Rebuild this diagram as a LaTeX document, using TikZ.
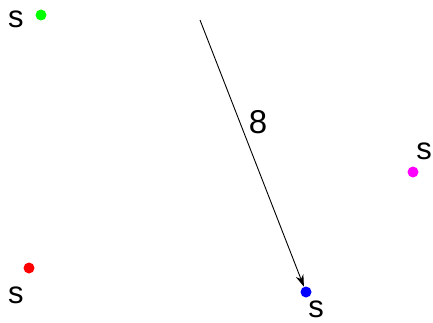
\documentclass[tikz,border=0pt]{standalone}
\usepackage{fontspec}
\setmainfont{Liberation Sans}
\usetikzlibrary{arrows.meta}
\begin{document}
\begin{tikzpicture}[x=1pt,y=-1pt,
  dot/.style={circle,inner sep=0pt,minimum size=11pt},
  lbl/.style={font=\fontsize{31}{32}\selectfont,inner sep=0pt},
  wlbl/.style={font=\fontsize{33}{34}\selectfont,inner sep=0pt},
  edge/.style={draw=black,line width=0.9pt,-{Stealth[length=12pt,width=8pt]}}]
\useasboundingbox (0,0) rectangle (433,323);
\node[dot,fill={rgb,255:red,0;green,255;blue,0}] (g) at (41,15) {};
\node[lbl] (gs) at (16,19) {s};
\node[dot,fill={rgb,255:red,255;green,0;blue,0}] (r) at (29,268) {};
\node[lbl] (rs) at (16,295) {s};
\node[dot,fill={rgb,255:red,0;green,0;blue,255}] (b) at (306,292) {};
\node[lbl] (bs) at (316,309) {s};
\node[dot,fill={rgb,255:red,255;green,0;blue,255}] (m) at (413,172) {};
\node[lbl] (ms) at (424,151) {s};
\coordinate (start) at (200,20);
\draw[edge] (start) -- (b);
\node[wlbl] (w) at (258,122) {8};
\end{tikzpicture}
\end{document}
